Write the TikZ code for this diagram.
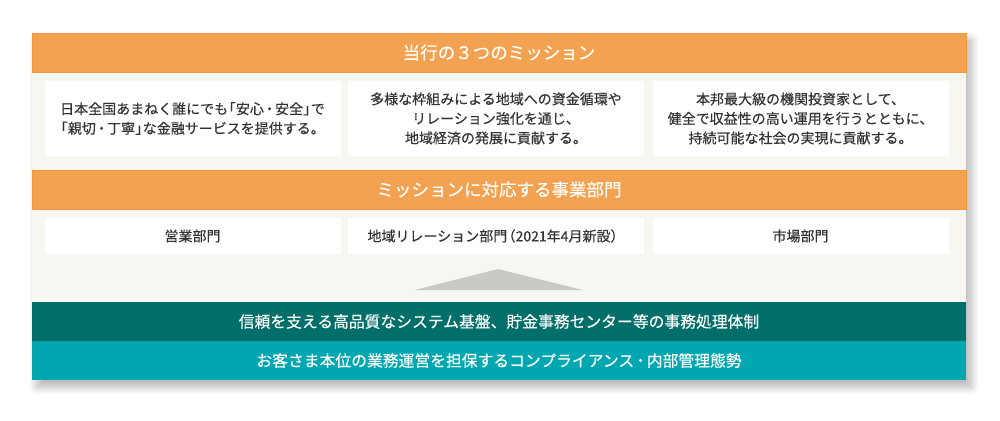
\documentclass[tikz,border=0pt]{standalone}
\usepackage{fontspec}
\setmainfont{Noto Sans CJK JP}[FakeBold=0.25]
\usetikzlibrary{shadows.blur}
\definecolor{orangeband}{HTML}{F2A250}
\definecolor{orangeline}{HTML}{F0963F}
\definecolor{panelbg}{HTML}{F7F6F0}
\definecolor{darkteal}{HTML}{006E69}
\definecolor{lightteal}{HTML}{00A7B0}
\definecolor{tri}{HTML}{CACAC5}
\definecolor{txt}{HTML}{333333}
\newcommand{\lbk}{\hspace{-0.45em}「}
\newcommand{\rbk}{」\hspace{-0.45em}}
\newcommand{\nak}{\hspace{-0.1em}・\hspace{-0.1em}}
\tikzset{
  band/.style={draw=orangeline, line width=0.8pt, fill=orangeband, minimum width=934pt, minimum height=39pt, inner sep=0pt, text=white, font=\fontsize{17.5}{19}\selectfont},
  mission/.style={fill=white, minimum width=296pt, minimum height=75pt, inner sep=0pt, text=txt, align=center, font=\fontsize{14}{19.5}\selectfont},
  dept/.style={fill=white, minimum width=296pt, minimum height=36pt, inner sep=0pt, text=txt, font=\fontsize{14}{16}\selectfont},
  baseband/.style={minimum width=934pt, minimum height=39pt, inner sep=0pt, text=white, font=\fontsize{15.8}{18}\selectfont},
}
\begin{document}
\begin{tikzpicture}[x=1pt,y=-1pt]
\useasboundingbox (0,0) rectangle (1000,420);
% panel with shadow
\node[fill=panelbg, minimum width=934pt, minimum height=347pt, inner sep=0pt,
  blur shadow={shadow xshift=5pt, shadow yshift=-7pt, shadow blur radius=8pt, shadow blur steps=14, shadow opacity=30}]
  (panel) at (499,206.5) {};
\node[band] (mtitle) at (499,52.5) {当行の３つのミッション};
\node[mission] (m1) at (192.5,118.5) {日本全国あまねく誰にでも\lbk 安心\nak 安全\rbk で\\\hspace{-0.45em}「親切\nak 丁寧\rbk な金融サービスを提供する。};
\node[mission] (m2) at (496,118.5) {多様な枠組みによる地域への資金循環や\\リレーション強化を通じ、\\地域経済の発展に貢献する。};
\node[mission] (m3) at (800.5,118.5) {本邦最大級の機関投資家として、\\健全で収益性の高い運用を行うとともに、\\持続可能な社会の実現に貢献する。};
\node[band] (dtitle) at (499,189.5) {ミッションに対応する事業部門};
\node[dept] (d1) at (192.5,236) {営業部門};
\node[dept] (d2) at (496,236) {地域リレーション部門\hspace{-0.4em}（2021年4月新設）\hspace{-0.4em}};
\node[dept] (d3) at (800.5,236) {市場部門};
\coordinate (tl) at (415,290);
\coordinate (ta) at (498,269);
\coordinate (tr) at (583,290);
\fill[tri] (tl) -- (ta) -- (tr) -- cycle;
\node[baseband, fill=darkteal] (b1) at (499,321.5) {信頼を支える高品質なシステム基盤、貯金事務センター等の事務処理体制};
\node[baseband, fill=lightteal] (b2) at (499,360.5) {お客さま本位の業務運営を担保するコンプライアンス\nak 内部管理態勢};
\end{tikzpicture}
\end{document}
